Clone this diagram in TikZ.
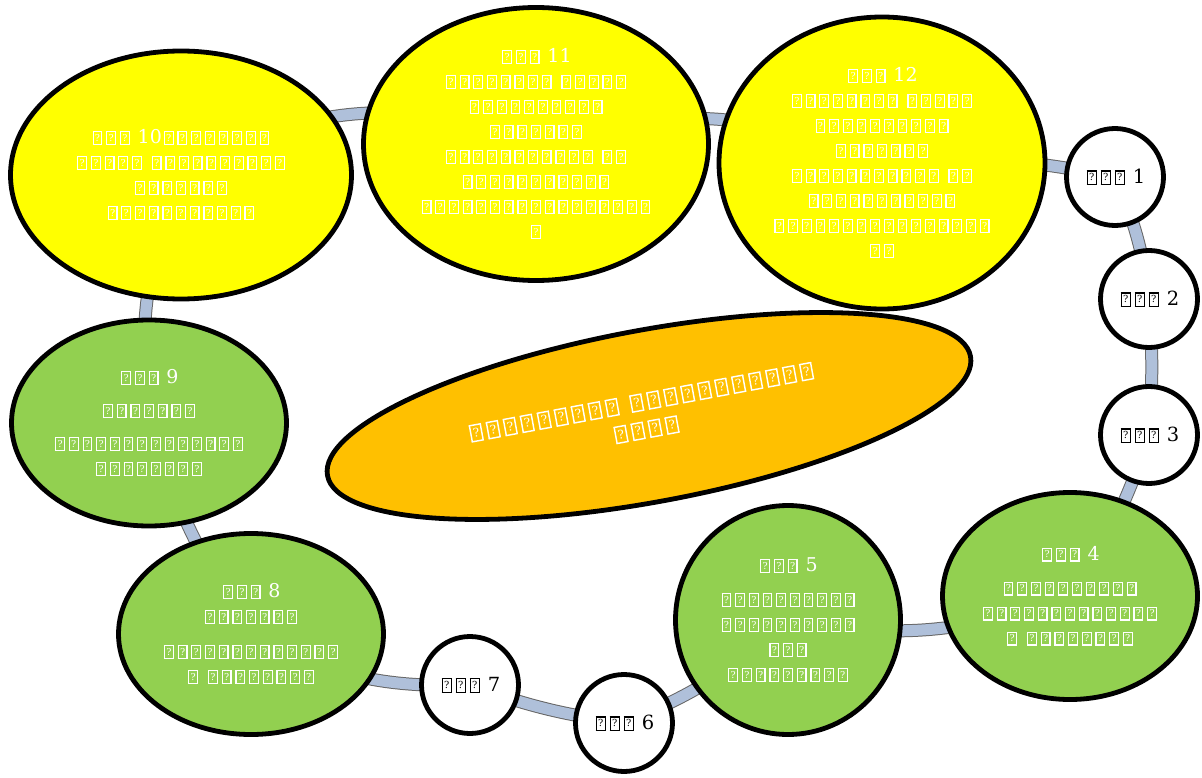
\documentclass[tikz,border=0pt]{standalone}
\usepackage{fontspec}
\usepackage{graphicx}
\setmainfont{DejaVu Serif}
\usetikzlibrary{shapes.geometric,backgrounds}
\definecolor{yel}{HTML}{FFFF00}
\definecolor{grn}{HTML}{92D050}
\definecolor{org}{HTML}{FFC000}
\definecolor{bandc}{HTML}{AFC0DA}
\newcommand\tq{\kern0.1em\relax\begingroup\setlength\fboxsep{0pt}\setlength\fboxrule{0.06em}\fbox{\makebox[0.40em]{\rule{0pt}{0.62em}\raisebox{0.14em}{\scalebox{0.5}{?}}}}\endgroup\kern0.1em\relax}
\ExplSyntaxOn
\cs_new:Npn \Q #1 { \prg_replicate:nn {#1} {\tq} }
\ExplSyntaxOff
\tikzset{
  blob/.style={ellipse, draw=black, line width=4.8pt, inner sep=0pt},
  yblob/.style={blob, fill=yel},
  gblob/.style={blob, fill=grn},
  wcirc/.style={circle, draw=black, line width=4.8pt, fill=white, inner sep=0pt, minimum size=97pt},
  wtxt/.style={text=white, align=center, font=\fontsize{19}{25}\selectfont, inner sep=0pt},
  btxt/.style={text=black, align=center, font=\fontsize{19.5}{24}\selectfont, inner sep=0pt},
  band/.style={draw=black!60, line width=1pt, double=bandc, double distance=11pt}
}
\begin{document}
\begin{tikzpicture}[x=1pt,y=-1pt]
\useasboundingbox (0,0) rectangle (1202,778);
% nodes
\node[yblob, minimum width=341pt, minimum height=248pt] (n10) at (181,175) {};
\node[yblob, minimum width=345pt, minimum height=273pt] (n11) at (536,144) {};
\node[yblob, minimum width=326pt, minimum height=292pt] (n12) at (882,163) {};
\node[wcirc] (n1) at (1115,177) {};
\node[wcirc] (n2) at (1149,299) {};
\node[wcirc] (n3) at (1149,435) {};
\node[gblob, minimum width=255pt, minimum height=207pt] (n4) at (1070,596) {};
\node[gblob, minimum width=225pt, minimum height=229pt] (n5) at (788,620) {};
\node[wcirc] (n6) at (624,723) {};
\node[wcirc] (n7) at (470,685) {};
\node[gblob, minimum width=265pt, minimum height=201pt] (n8) at (251,634) {};
\node[gblob, minimum width=275pt, minimum height=206pt] (n9) at (149,423) {};
\node[blob, fill=org, rotate=10.5, minimum width=654pt, minimum height=172pt] (c) at (649,416) {};
% texts
\node[wtxt] (t10) at (n10) {\Q{3} 10\Q{8}\\ \Q{5} \Q{10}\\ \Q{7}\\ \Q{11}};
\node[wtxt] (t11) at (n11) {\Q{3} 11\\ \Q{8} \Q{5}\\ \Q{10}\\ \Q{7}\\ \Q{11} \Q{2}\\ \Q{11}\\ \Q{17}\\ \Q{1}};
\node[wtxt] (t12) at (n12) {\Q{3} 12\\ \Q{8} \Q{5}\\ \Q{10}\\ \Q{7}\\ \Q{11} \Q{2}\\ \Q{11}\\ \Q{16}\\ \Q{2}};
\node[wtxt] (t9) at (n9) {\Q{3} 9\\[8pt] \Q{7}\\[8pt] \Q{14}\\ \Q{8}};
\node[wtxt] (t4) at (n4) {\Q{3} 4\\[9pt] \Q{10}\\ \Q{13}\\ \Q{1} \Q{8}};
\node[wtxt] (t5) at (n5) {\Q{3} 5\\[9pt] \Q{10}\\ \Q{10}\\ \Q{3}\\ \Q{9}};
\node[wtxt] (t8) at (n8) {\Q{3} 8\\ \Q{7}\\[10pt] \Q{13}\\ \Q{1} \Q{8}};
\node[btxt] (t1) at (n1) {\Q{3} 1};
\node[btxt] (t2) at (n2) {\Q{3} 2};
\node[btxt] (t3) at (n3) {\Q{3} 3};
\node[btxt] (t6) at (n6) {\Q{3} 6};
\node[btxt] (t7) at (n7) {\Q{3} 7};
\node[wtxt, rotate=10.5, font=\fontsize{24}{28}\selectfont] (tc) at (644,416) {\Q{9} \Q{11}\\ \Q{4}};
% connectors
\begin{scope}[on background layer]
\draw[band] (n1.center) to[bend left=8] (n2.center);
\draw[band] (n2.center) to[bend left=4] (n3.center);
\draw[band] (n3.center) to[bend left=8] (n4.center);
\draw[band] (n4.center) to[bend left=15] (n5.center);
\draw[band] (n5.center) to[bend left=10] (n6.center);
\draw[band] (n6.center) to[bend left=6] (n7.center);
\draw[band] (n7.center) to[bend left=15] (n8.center);
\draw[band] (n8.center) to[bend left=8] (n9.center);
\draw[band] (n9.center) to[bend left=14] (n10.center);
\draw[band] (n10.center) to[bend left=26] (n11.center);
\draw[band] (n11.center) to[bend left=20] (n12.center);
\draw[band] (n12.center) to[bend left=8] (n1.center);
\end{scope}
\end{tikzpicture}
\end{document}
